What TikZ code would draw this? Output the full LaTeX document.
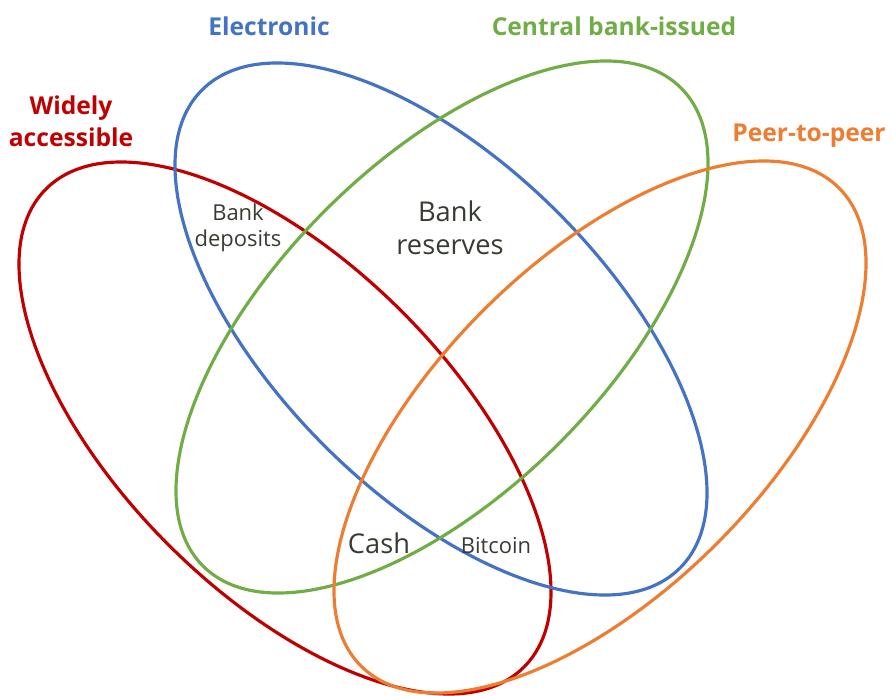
\documentclass[tikz,border=0pt]{standalone}
\usepackage{fontspec}
\setmainfont{Open Sans}
\usetikzlibrary{positioning}
\definecolor{wideRed}{RGB}{192,0,0}
\definecolor{elecBlue}{RGB}{68,114,196}
\definecolor{cbGreen}{RGB}{112,173,71}
\definecolor{ptpOrange}{RGB}{237,125,49}
\definecolor{areaText}{RGB}{55,60,50}

\begin{document}
\begin{tikzpicture}[
        set/.style={line width=1.8pt},
        title/.style={font=\fontsize{14}{18}\selectfont\bfseries, align=center},
        area/.style={text=areaText, align=center},
        small/.style={area, font=\fontsize{12.5}{15}\selectfont},
        big/.style={area, font=\fontsize{15.5}{19}\selectfont},
    ]
    \useasboundingbox (0,0) rectangle (17.84,13.9);

        % Draw the four sets
        \foreach \col / \cx / \cy / \ang in {wideRed/5.70/5.34/-45, elecBlue/8.82/7.32/-45, cbGreen/8.84/7.36/45, ptpOrange/12.0/5.36/45}
            \draw[set, draw=\col, rotate around={\ang:(\cx,\cy)}] (\cx,\cy) ellipse [x radius=6.76, y radius=3.30];

        % Set names
        \node[title, text=wideRed] (wide) at (1.42,11.48) {Widely\\accessible};
        \node[title, text=elecBlue] (elec) at (5.38,13.38) {Electronic};
        \node[title, text=cbGreen] (cbank) at (12.28,13.38) {Central bank-issued};
        \node[title, text=ptpOrange] (ptp) at (16.18,11.18) {Peer-to-peer};

        % Examples inside the overlaps
        \node[small] (deposits) at (4.76,9.34) {Bank\\deposits};
        \node[big] (reserves) at (9.00,9.34) {Bank\\reserves};
        \node[big] (cash) at (7.58,3.04) {Cash};
        \node[small] (bitcoin) at (9.92,2.98) {Bitcoin};
    \end{tikzpicture}
\end{document}
